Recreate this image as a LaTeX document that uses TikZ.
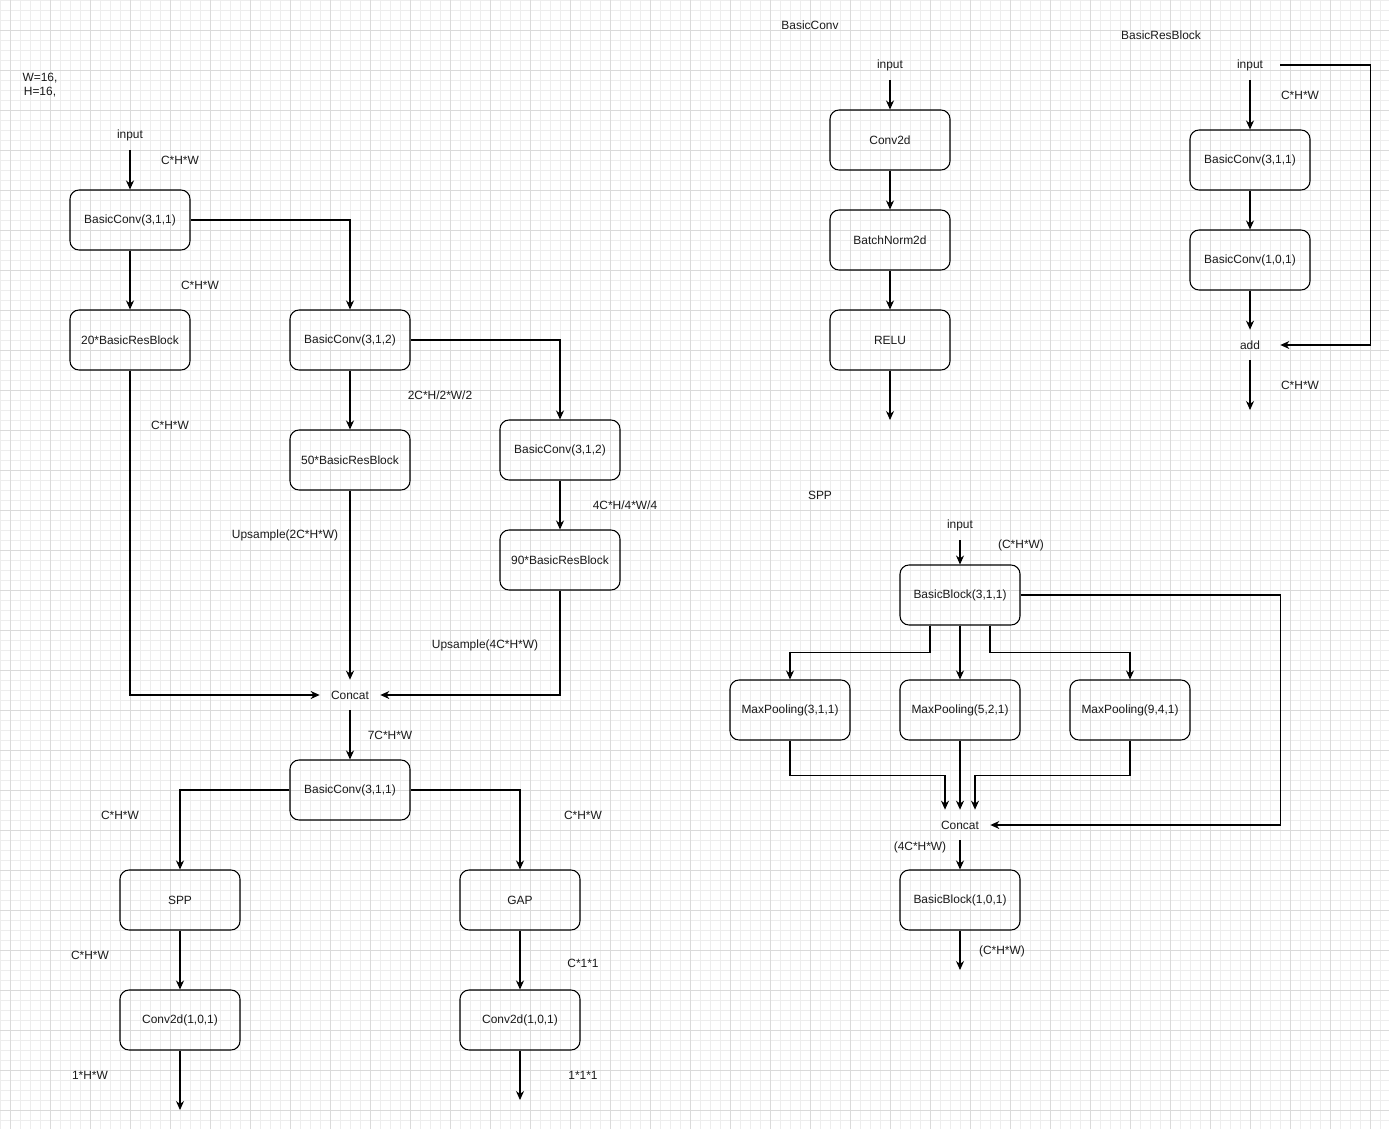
\documentclass[tikz,border=0pt]{standalone}
\usepackage{fontspec}
\setmainfont{Liberation Sans}
\usetikzlibrary{positioning, arrows.meta, calc}
\definecolor{gridMinor}{HTML}{EDEDED}
\definecolor{gridMajor}{HTML}{DADADA}
\definecolor{inkDark}{HTML}{1A1A1A}

\begin{document}
\begin{tikzpicture}[
    x=0.2mm, y=-0.2mm,
    every node/.style={font=\fontsize{6.8pt}{8pt}\selectfont, text=inkDark},
    block/.style={draw=black, line width=0.6pt, rectangle, rounded corners=1.8mm, minimum width=24mm, minimum height=12mm, inner sep=0pt},
    tag/.style={minimum width=12mm, minimum height=6mm, inner sep=0pt},
    note/.style={inner sep=1pt, align=center},
    >={Stealth[length=1.8mm, width=1.6mm]},
    conn/.style={draw=black, line width=0.6pt, ->},
    wire/.style={draw=black, line width=0.6pt},
]
% canvas and grid
\useasboundingbox (0,0) rectangle (1389,1129);
\fill[white] (0,0) rectangle (1389,1129);
\foreach \gx in {0,10,...,1380} \draw[gridMinor, line width=0.5pt] (\gx,0) -- (\gx,1129);
\foreach \gy in {0,10,...,1120} \draw[gridMinor, line width=0.5pt] (0,\gy) -- (1389,\gy);
\foreach \gx in {10,50,...,1370} \draw[gridMajor, line width=0.5pt] (\gx,0) -- (\gx,1129);
\foreach \gy in {30,70,...,1110} \draw[gridMajor, line width=0.5pt] (0,\gy) -- (1389,\gy);

% main network
\node[note] (dims) at (40,85) {W=16,\\H=16,};
\node[tag]   (in)    at (130,135)  {input};
\node[block] (c311)  at (130,220)  {BasicConv(3,1,1)};
\node[block] (res20) at (130,340)  {20*BasicResBlock};
\node[block] (c312a) at (350,340)  {BasicConv(3,1,2)};
\node[block] (res50) at (350,460)  {50*BasicResBlock};
\node[block] (c312b) at (560,450)  {BasicConv(3,1,2)};
\node[block] (res90) at (560,560)  {90*BasicResBlock};
\node[tag]   (cat)   at (350,695)  {Concat};
\node[block] (c311b) at (350,790)  {BasicConv(3,1,1)};
\node[block] (spp)   at (180,900)  {SPP};
\node[block] (gap)   at (520,900)  {GAP};
\node[block] (headL) at (180,1020) {Conv2d(1,0,1)};
\node[block] (headR) at (520,1020) {Conv2d(1,0,1)};
\coordinate (outL) at (180,1110);
\coordinate (outR) at (520,1100);

\node[note] (s1)  at (180,160)  {C*H*W};
\node[note] (s2)  at (200,285)  {C*H*W};
\node[note] (s3)  at (170,425)  {C*H*W};
\node[note] (s4)  at (440,395)  {2C*H/2*W/2};
\node[note] (s5)  at (625,505)  {4C*H/4*W/4};
\node[note] (s6)  at (285,535)  {Upsample(2C*H*W)};
\node[note] (s7)  at (485,645)  {Upsample(4C*H*W)};
\node[note] (s8)  at (390,735)  {7C*H*W};
\node[note] (s9)  at (120,815)  {C*H*W};
\node[note] (s10) at (583,815)  {C*H*W};
\node[note] (s11) at (90,955)   {C*H*W};
\node[note] (s12) at (583,963)  {C*1*1};
\node[note] (s13) at (90,1075)  {1*H*W};
\node[note] (s14) at (583,1075) {1*1*1};

\draw[conn] (in) -- (c311);
\draw[conn] (c311) -- (res20);
\draw[conn] (c311.east) -| (c312a.north);
\draw[conn] (c312a) -- (res50);
\draw[conn] (c312a.east) -| (c312b.north);
\draw[conn] (c312b) -- (res90);
\draw[conn] (res20.south) |- (cat.west);
\draw[conn] (res50) -- (cat);
\draw[conn] (res90.south) |- (cat.east);
\draw[conn] (cat) -- (c311b);
\draw[conn] (c311b.west) -| (spp.north);
\draw[conn] (c311b.east) -| (gap.north);
\draw[conn] (spp) -- (headL);
\draw[conn] (gap) -- (headR);
\draw[conn] (headL) -- (outL);
\draw[conn] (headR) -- (outR);

% BasicConv
\node[note]  (tBC)  at (810,25)  {BasicConv};
\node[tag]   (bcIn) at (890,65)  {input};
\node[block] (conv) at (890,140) {Conv2d};
\node[block] (bn)   at (890,240) {BatchNorm2d};
\node[block] (relu) at (890,340) {RELU};
\coordinate (bcOut) at (890,420);
\draw[conn] (bcIn) -- (conv);
\draw[conn] (conv) -- (bn);
\draw[conn] (bn) -- (relu);
\draw[conn] (relu) -- (bcOut);

% BasicResBlock
\node[note]  (tRB)  at (1161,35)  {BasicResBlock};
\node[tag]   (rbIn) at (1250,65)  {input};
\node[block] (rb1)  at (1250,160) {BasicConv(3,1,1)};
\node[block] (rb2)  at (1250,260) {BasicConv(1,0,1)};
\node[tag]   (add)  at (1250,345) {add};
\coordinate (rbOut) at (1250,410);
\node[note] (r1) at (1300,95)  {C*H*W};
\node[note] (r2) at (1300,385) {C*H*W};
\draw[conn] (rbIn) -- (rb1);
\draw[conn] (rb1) -- (rb2);
\draw[conn] (rb2) -- (add);
\draw[conn] (rbIn.east) -- ++(90,0) |- (add.east);
\draw[conn] (add) -- (rbOut);

% SPP
\node[note]  (tSPP)  at (820,495)  {SPP};
\node[tag]   (spIn)  at (960,525)  {input};
\node[block] (sb1)   at (960,595)  {BasicBlock(3,1,1)};
\node[block] (mp3)   at (790,710)  {MaxPooling(3,1,1)};
\node[block] (mp5)   at (960,710)  {MaxPooling(5,2,1)};
\node[block] (mp9)   at (1130,710) {MaxPooling(9,4,1)};
\node[tag]   (spCat) at (960,825)  {Concat};
\node[block] (sb2)   at (960,900)  {BasicBlock(1,0,1)};
\coordinate (spOut) at (960,970);
\node[note] (p1) at (1021,545) {(C*H*W)};
\node[note] (p2) at (920,847)  {(4C*H*W)};
\node[note] (p3) at (1002,951) {(C*H*W)};
\draw[conn] (spIn) -- (sb1);
\draw[conn] ([xshift=-6mm]sb1.south) -- ++(0,27) -| (mp3.north);
\draw[conn] (sb1) -- (mp5);
\draw[conn] ([xshift=6mm]sb1.south) -- ++(0,27) -| (mp9.north);
\draw[conn] (mp3.south) -- ++(0,35) -| ([xshift=-3mm]spCat.north);
\draw[conn] (mp5) -- (spCat);
\draw[conn] (mp9.south) -- ++(0,35) -| ([xshift=3mm]spCat.north);
\draw[conn] (sb1.east) -- ++(260,0) |- (spCat.east);
\draw[conn] (spCat) -- (sb2);
\draw[conn] (sb2) -- (spOut);
\end{tikzpicture}
\end{document}
